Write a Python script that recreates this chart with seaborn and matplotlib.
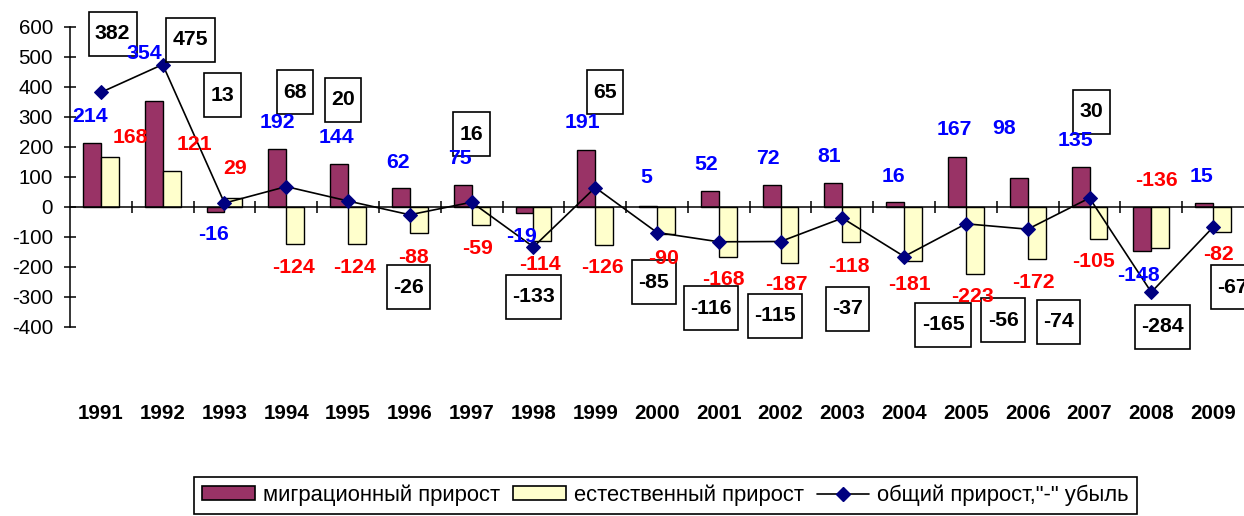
import numpy as np
import pandas as pd
import matplotlib
matplotlib.use("Agg")
import matplotlib.pyplot as plt
import seaborn as sns
from matplotlib.path import Path
from matplotlib.patches import Patch
from matplotlib.lines import Line2D

# ---------------- data ----------------
years = ["1991", "1992", "1993", "1994", "1995", "1996", "1997", "1998", "1999", "2000",
         "2001", "2002", "2003", "2004", "2005", "2006", "2007", "2008", "2009"]
migration = [214, 354, -16, 192, 144, 62, 75, -19, 191, 5, 52, 72, 81, 16, 167, 98, 135, -148, 15]
natural = [168, 121, 29, -124, -124, -88, -59, -114, -126, -90, -168, -187, -118, -181, -223,
           -172, -105, -136, -82]
total = [382, 475, 13, 68, 20, -26, 16, -133, 65, -85, -116, -115, -37, -165, -56, -74, 30,
         -284, -67]

series_names = ["миграционный прирост", "естественный прирост", 'общий прирост,"-" убыль']

# ---------------- label layout (positions of the moved data labels) ----------------
mig_dx = [-0.18, -0.30, -0.17, -0.15, -0.18, -0.19, -0.19, -0.19, -0.20, -0.18,
          -0.21, -0.20, -0.21, -0.18, -0.19, -0.39, -0.22, -0.21, -0.19]
mig_y = [300, 513, -93, 280, 233, 147, 163, -100, 280, 97, 143, 163, 167, 100, 257, 263,
         223, -227, 100]
nat_dx = [0.47, 0.52, 0.18, 0.12, 0.10, 0.06, 0.10, 0.11, 0.11, 0.11, 0.08, 0.09, 0.10,
          0.08, 0.10, 0.10, 0.07, 0.08, 0.08]
nat_y = [233, 207, 130, -203, -203, -167, -137, -193, -203, -170, -243, -260, -200, -260,
         -297, -253, -183, 87, -160]
tot_dx = [0.19, 0.45, -0.03, 0.14, -0.08, -0.02, 0.0, 0.0, 0.16, -0.05, -0.13, -0.09, 0.08,
          0.63, 0.60, 0.50, 0.03, 0.18, 0.31]
tot_y = [577, 557, 373, 383, 357, -267, 243, -300, 383, -250, -337, -363, -340, -393, -377,
         -383, 317, -400, -267]

# ---------------- style ----------------
C_MIG = "#993366"
C_NAT = "#FFFFCC"
C_MARK = "#000080"
C_BLUE = "#0000FF"
C_RED = "#FF0000"

sns.set_style("white")
plt.rcParams["font.family"] = ["Liberation Sans", "DejaVu Sans"]
plt.rcParams["axes.unicode_minus"] = False
for key in ["text.color", "xtick.color", "ytick.color", "axes.labelcolor", "axes.edgecolor"]:
    plt.rcParams[key] = "black"

W, H = 1244, 516
fig = plt.figure(figsize=(W / 100, H / 100), dpi=100)
ax = fig.add_axes([70 / W, 1 - 327 / H, (W - 70) / W, 300 / H])

df = pd.DataFrame({
    "year": years * 2,
    "value": migration + natural,
    "series": [series_names[0]] * len(years) + [series_names[1]] * len(years),
})
sns.barplot(data=df, x="year", y="value", hue="series", palette=[C_MIG, C_NAT],
            width=0.58, edgecolor="black", linewidth=1.0, saturation=1,
            legend=False, ax=ax, zorder=2)

xpos = np.arange(len(years))
sns.lineplot(x=xpos, y=total, color="black", linewidth=1.2, marker="D", markersize=7,
             markerfacecolor=C_MARK, markeredgecolor=C_MARK, sort=False, ax=ax, zorder=4)

ax.set_xlim(-0.5, len(years) - 0.5)
ax.set_ylim(-400, 600)
ax.set_yticks(range(-400, 601, 100))
ax.set_xlabel("")
ax.set_ylabel("")

for s in ["top", "right"]:
    ax.spines[s].set_visible(False)
ax.spines["left"].set_color("black")
ax.spines["left"].set_linewidth(1.1)
ax.spines["bottom"].set_color("black")
ax.spines["bottom"].set_linewidth(1.1)
ax.spines["bottom"].set_position(("data", 0))
ax.spines["bottom"].set_zorder(3)

ax.tick_params(axis="y", left=True, direction="inout", length=8.5, width=1.1,
               labelsize=14.8, pad=8, colors="black", labelcolor="black")
ax.set_xticks(xpos)
ax.set_xticklabels(years, fontsize=14.8, fontweight="bold", color="black")
ax.tick_params(axis="x", which="major", bottom=True, length=0, pad=142, labelcolor="black")
ax.set_xticks(np.arange(0.5, len(years) - 0.5, 1), minor=True)
ax.tick_params(axis="x", which="minor", bottom=True, direction="inout", length=8, width=1.1,
               colors="black")


def wide_box(x0, y0, width, height, mutation_size):
    px = 0.30 * mutation_size
    py = 0.58 * mutation_size
    x0 -= px
    y0 -= py
    x1 = x0 + width + 2 * px
    y1 = y0 + height + 2 * py
    return Path([(x0, y0), (x1, y0), (x1, y1), (x0, y1), (x0, y0)], closed=True)


lab_kw = dict(ha="center", va="center", fontsize=15.3, fontweight="bold", clip_on=False)
for i in range(len(years)):
    ax.text(i + mig_dx[i], mig_y[i], f"{migration[i]}", color=C_BLUE, zorder=6, **lab_kw)
    ax.text(i + nat_dx[i], nat_y[i], f"{natural[i]}", color=C_RED, zorder=6, **lab_kw)
    ax.text(i + tot_dx[i], tot_y[i], f"{total[i]}", color="black", zorder=5,
            bbox=dict(boxstyle=wide_box, facecolor="white", edgecolor="black", linewidth=1.2),
            **lab_kw)

handles = [
    Patch(facecolor=C_MIG, edgecolor="black", linewidth=1.2),
    Patch(facecolor=C_NAT, edgecolor="black", linewidth=1.2),
    Line2D([], [], color="black", linewidth=1.2, marker="D", markersize=7,
           markerfacecolor=C_MARK, markeredgecolor=C_MARK),
]
leg = fig.legend(handles, series_names, loc="upper center",
                 bbox_to_anchor=(665.5 / W, 1 - 477 / H), ncol=3, frameon=True,
                 fancybox=False, edgecolor="black", framealpha=1, fontsize=15.8,
                 handlelength=2.4, handleheight=0.6, handletextpad=0.36,
                 columnspacing=0.6, borderpad=0.35, borderaxespad=0)
leg.get_frame().set_linewidth(1.2)
for t in leg.get_texts():
    t.set_color("black")

fig.savefig("out.png", dpi=100)
